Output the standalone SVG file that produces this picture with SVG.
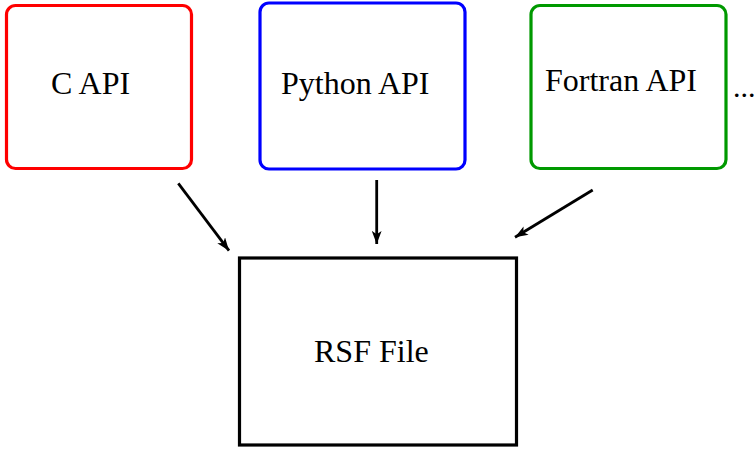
<svg xmlns="http://www.w3.org/2000/svg" width="756" height="451" viewBox="0 0 756 451">
  <style>
    .box { fill: #ffffff; stroke-width: 3.2; }
    .label { font-family: "Liberation Serif", "Times New Roman", serif; font-size: 32px; fill: #000000; }
    .conn { stroke: #000000; stroke-width: 2.8; fill: none; marker-end: url(#head); }
  </style>
  <defs>
    <marker id="head" viewBox="0 0 12 9" refX="12" refY="4.5" markerUnits="userSpaceOnUse" markerWidth="13" markerHeight="10" orient="auto">
      <path d="M0,0 L12,4.5 L0,9 L3,4.5 Z" fill="#000000"/>
    </marker>
  </defs>
  <rect width="756" height="451" fill="#ffffff"/>

  <g id="c-api">
    <rect class="box" x="6.5" y="5.5" width="185" height="163" rx="9" stroke="#ff0000"/>
    <text class="label" x="51" y="94">C API</text>
  </g>

  <g id="python-api">
    <rect class="box" x="260" y="3" width="205" height="166" rx="9" stroke="#0000ff"/>
    <text class="label" x="281" y="94">Python API</text>
  </g>

  <g id="fortran-api">
    <rect class="box" x="531" y="5.5" width="195" height="163" rx="9" stroke="#009900"/>
    <text class="label" x="545" y="91">Fortran API</text>
  </g>

  <g id="more">
    <text class="label" x="733" y="97" style="font-size:30px">...</text>
  </g>

  <g id="rsf-file">
    <rect class="box" x="239.5" y="258" width="277" height="187" stroke="#000000"/>
    <text class="label" x="314" y="362">RSF File</text>
  </g>

  <g id="connectors">
    <line class="conn" x1="178.3" y1="183.3" x2="229" y2="250.7"/>
    <line class="conn" x1="376.7" y1="180" x2="376.7" y2="244"/>
    <line class="conn" x1="592.7" y1="190" x2="515" y2="237.3"/>
  </g>
</svg>
